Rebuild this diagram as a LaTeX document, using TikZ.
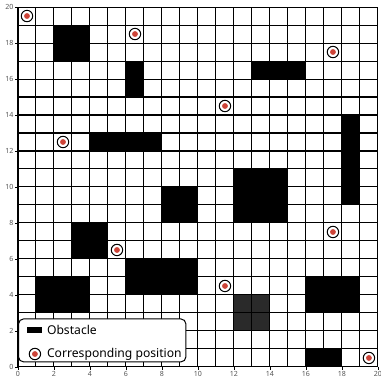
\documentclass[tikz,border=0pt]{standalone}
\usepackage{fontspec}
\setmainfont{Noto Sans}
\definecolor{posred}{RGB}{205,68,56}
\definecolor{ticktext}{RGB}{85,85,85}
\definecolor{darkblock}{RGB}{42,42,42}
\begin{document}
\begin{tikzpicture}[x=0.5cm, y=0.5cm]

\tikzset{obstacle/.style = {fill=black}}
\tikzset{target/.style = {shape=circle, draw, line width=0.8pt, inner sep=0pt, minimum size=9pt,
  path picture={\fill[posred] (path picture bounding box.center) circle (2.3pt);}}}
\tikzset{ticklabel/.style = {text=ticktext, font=\fontsize{5.6}{6}\selectfont, inner sep=1pt}}
\tikzset{legendtext/.style = {anchor=west, font=\fontsize{9.6}{11}\selectfont, inner sep=0pt}}

\useasboundingbox (-1.0,-0.72) rectangle (20.17,20.39);

% obstacles
\fill[obstacle] (2,17) rectangle (4,19);
\fill[obstacle] (6,15) rectangle (7,17);
\fill[obstacle] (13,16) rectangle (16,17);
\fill[obstacle] (4,12) rectangle (8,13);
\fill[obstacle] (18,9) rectangle (19,14);
\fill[obstacle] (8,8) rectangle (10,10);
\fill[obstacle] (12,8) rectangle (15,11);
\fill[obstacle] (3,6) rectangle (5,8);
\fill[obstacle] (6,4) rectangle (10,6);
\fill[obstacle] (1,3) rectangle (4,5);
\fill[obstacle] (16,3) rectangle (19,5);
\fill[obstacle] (16,0) rectangle (18,1);
\fill[darkblock] (12,2) rectangle (14,4);

% grid
\draw[line width=0.8pt, step=1] (0,0) grid (20,20);

% ticks
\foreach \i in {0,2,...,20} {
  \draw[line width=0.5pt] (\i,0) -- (\i,-0.17) node[ticklabel, below] (xt\i) {\i};
  \draw[line width=0.5pt] (0,\i) -- (-0.17,\i) node[ticklabel, left] (yt\i) {\i};
}

% positions
\node[target] (p1) at (0.5,19.5) {};
\node[target] (p2) at (6.5,18.5) {};
\node[target] (p3) at (17.5,17.5) {};
\node[target] (p4) at (11.5,14.5) {};
\node[target] (p5) at (2.5,12.5) {};
\node[target] (p6) at (17.5,7.5) {};
\node[target] (p7) at (5.5,6.5) {};
\node[target] (p8) at (11.5,4.5) {};
\node[target] (p9) at (19.5,0.5) {};

% legend
\draw[line width=0.8pt, fill=white, rounded corners=4pt] (0.03,0.28) rectangle (9.33,2.67);
\fill[obstacle] (0.5,1.89) rectangle (1.33,2.22);
\node[legendtext] (obstxt) at (1.6,2.05) {Obstacle};
\node[target] (legpos) at (0.94,0.72) {};
\node[legendtext] (postxt) at (1.6,0.72) {Corresponding position};

\end{tikzpicture}
\end{document}
